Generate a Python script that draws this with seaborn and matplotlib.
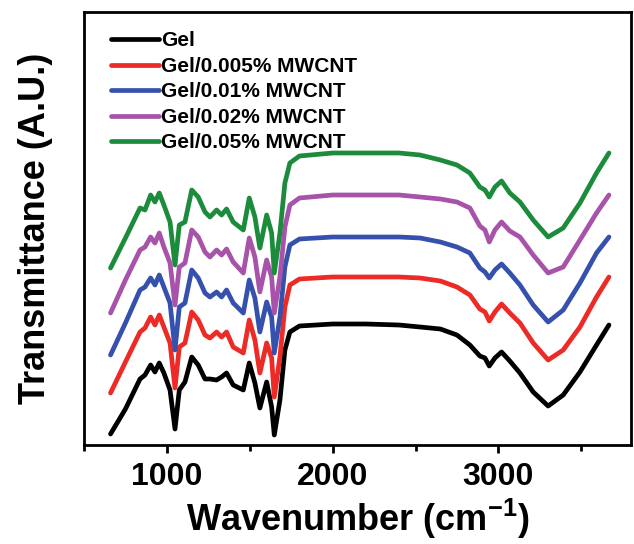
import numpy as np
import pandas as pd
import matplotlib
matplotlib.use('Agg')
import matplotlib.pyplot as plt
from matplotlib.ticker import MultipleLocator
import seaborn as sns

# wavenumber grid (cm-1) and transmittance traces (arbitrary units, stacked)
wavenumber = [660, 750, 838, 868, 902, 928, 954, 982, 1019, 1049, 1075, 1109, 1150,
              1189, 1230, 1260, 1300, 1330, 1360, 1400, 1461, 1497, 1531, 1561, 1602,
              1632, 1648, 1682, 1712, 1742, 1800, 2000, 2200, 2400, 2527, 2650, 2750,
              2828, 2888, 2919, 2945, 2979, 3019, 3069, 3130, 3210, 3300, 3391, 3492,
              3592, 3667]

gel = [11, 36, 66, 70, 80, 73, 82, 72, 55, 16, 55, 63, 88,
       80, 66, 66, 65, 68, 72, 60, 55, 82, 62, 37, 63,
       38, 10, 45, 95, 113, 119, 121, 121, 120, 118, 116, 110,
       100, 89, 87, 79, 87, 93, 84, 72, 53, 39, 50, 73,
       100, 120]

gel_0005 = [52, 83, 113, 117, 128, 120, 130, 118, 102, 57, 98, 102, 133,
            125, 110, 107, 113, 108, 113, 98, 92, 125, 105, 72, 102,
            87, 48, 88, 138, 160, 166, 168, 168, 168, 167, 164, 158,
            150, 136, 133, 124, 133, 141, 132, 122, 102, 85, 95, 118,
            148, 168]

gel_001 = [90, 122, 155, 158, 167, 160, 170, 158, 142, 95, 138, 142, 175,
           167, 152, 148, 153, 148, 155, 142, 132, 165, 147, 113, 143,
           128, 92, 128, 178, 200, 206, 208, 208, 208, 207, 203, 198,
           192, 177, 173, 167, 175, 181, 172, 160, 140, 123, 135, 162,
           192, 208]

gel_002 = [132, 165, 195, 198, 208, 202, 212, 198, 182, 140, 178, 182, 215,
           208, 193, 188, 195, 190, 196, 183, 172, 207, 188, 153, 185,
           168, 132, 168, 218, 240, 247, 250, 250, 250, 248, 246, 243,
           237, 219, 215, 203, 215, 223, 214, 208, 190, 172, 178, 205,
           232, 250]

gel_005 = [177, 207, 237, 235, 250, 243, 252, 240, 223, 180, 220, 223, 255,
           248, 233, 228, 235, 230, 236, 223, 215, 247, 228, 197, 230,
           212, 172, 212, 262, 282, 289, 292, 292, 292, 290, 285, 280,
           272, 258, 255, 248, 258, 264, 252, 243, 225, 208, 217, 242,
           272, 292]

labels = ['Gel', 'Gel/0.005% MWCNT', 'Gel/0.01% MWCNT', 'Gel/0.02% MWCNT', 'Gel/0.05% MWCNT']
colors = ['#000000', '#ec2a26', '#3651ad', '#a653a9', '#1c8b3c']

frames = []
for name, vals in zip(labels, [gel, gel_0005, gel_001, gel_002, gel_005]):
    frames.append(pd.DataFrame({'wavenumber': wavenumber, 'T': vals, 'sample': name}))
df = pd.concat(frames, ignore_index=True)

sns.set_style('ticks')
plt.rcParams['font.family'] = ['Liberation Sans', 'DejaVu Sans']
plt.rcParams['font.weight'] = 'bold'
plt.rcParams['text.color'] = 'black'
plt.rcParams['axes.labelcolor'] = 'black'
plt.rcParams['xtick.color'] = 'black'
plt.rcParams['mathtext.fontset'] = 'custom'
plt.rcParams['mathtext.rm'] = 'Liberation Sans:bold'
plt.rcParams['mathtext.bf'] = 'Liberation Sans:bold'
plt.rcParams['mathtext.default'] = 'bf'

fig = plt.figure(figsize=(6.34, 5.44), dpi=100)
ax = fig.add_axes([84 / 634, 99 / 544, 547 / 634, 433 / 544])

sns.lineplot(data=df, x='wavenumber', y='T', hue='sample', hue_order=labels,
             palette=colors, linewidth=3.4, sort=False, estimator=None, ax=ax)
for ln in ax.get_lines():
    ln.set_solid_joinstyle('round')
    ln.set_solid_capstyle('round')

ax.set_xlim(500, 3800)
ax.set_ylim(0, 433)
ax.xaxis.set_major_locator(MultipleLocator(1000))
ax.xaxis.set_minor_locator(MultipleLocator(500))
ax.set_yticks([])
ax.tick_params(axis='x', which='major', length=6, width=2, labelsize=23, pad=6,
               color='black', labelcolor='black')
ax.tick_params(axis='x', which='minor', length=4, width=2, color='black')
for lab in ax.get_xticklabels():
    lab.set_fontweight('bold')
for sp in ax.spines.values():
    sp.set_linewidth(2)
    sp.set_color('black')
    sp.set_visible(True)

ax.set_xlabel('Wavenumber (cm$^{-1}$)', fontsize=26, fontweight='bold', labelpad=4,
              color='black')
ax.set_ylabel('Transmittance (A.U.)', fontsize=26, fontweight='bold', labelpad=22,
              color='black')

leg = ax.legend(loc='upper left', bbox_to_anchor=(0.049, 0.955), frameon=False,
                prop={'weight': 'bold', 'size': 15}, handlelength=2.3,
                handletextpad=0.1, labelspacing=0.31, borderpad=0, borderaxespad=0)
for h in leg.get_lines():
    h.set_linewidth(3.4)
for t in leg.get_texts():
    t.set_color('black')

fig.savefig('out.png', dpi=100)
